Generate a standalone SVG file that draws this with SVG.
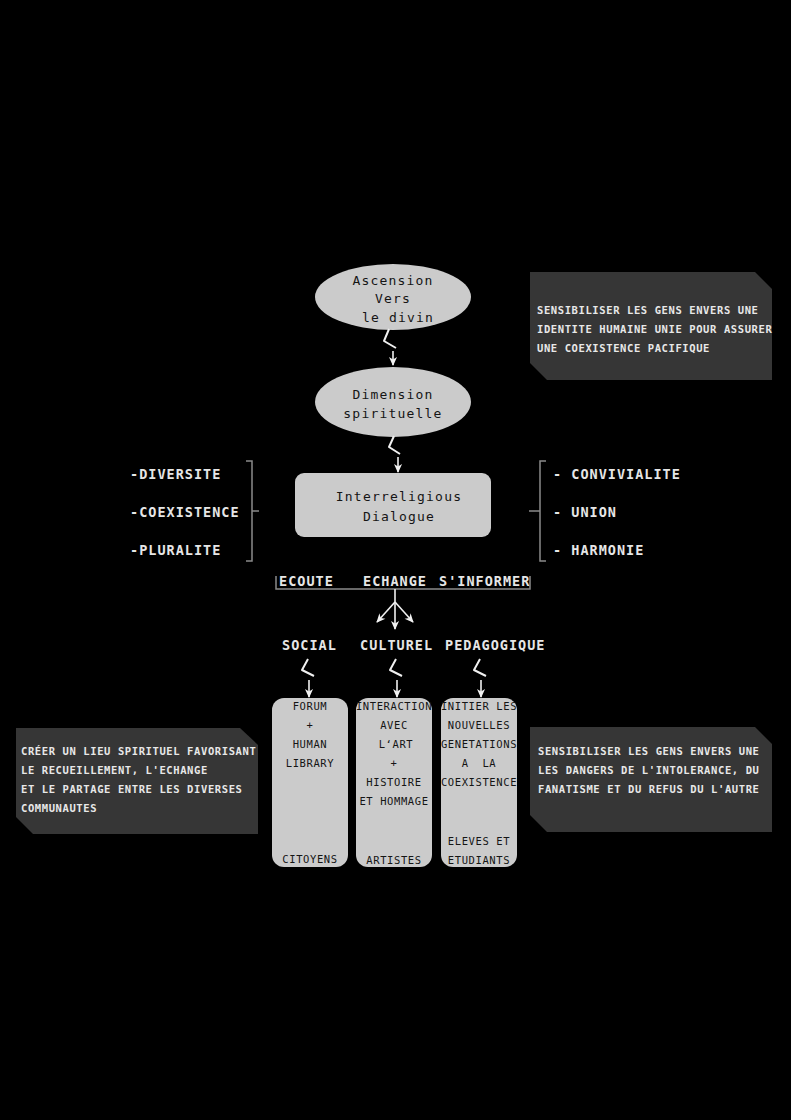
<svg xmlns="http://www.w3.org/2000/svg" width="791" height="1120" viewBox="0 0 791 1120">
<defs>
<marker id="ah" viewBox="0 0 10 10" refX="9" refY="5" markerWidth="11" markerHeight="9" orient="auto" markerUnits="userSpaceOnUse">
<path d="M0,0.5 L10,5 L0,9.5 L3,5 Z" fill="#f2f2f2"/>
</marker>
<style>
.bg{fill:#000}
.lt{fill:#cbcbcb}
.dk{fill:#363636}
.t1{font-family:"DejaVu Sans Mono","Liberation Mono",monospace;font-size:13px;letter-spacing:1.2px;fill:#151515;text-anchor:middle}
.t2{font-family:"DejaVu Sans Mono","Liberation Mono",monospace;font-size:13.5px;font-weight:bold;letter-spacing:1px;fill:#e6e6e6}
.t3{font-family:"DejaVu Sans Mono","Liberation Mono",monospace;font-size:10.5px;font-weight:bold;letter-spacing:0.6px;fill:#e8e8e8}
.t4{font-family:"DejaVu Sans Mono","Liberation Mono",monospace;font-size:10.5px;letter-spacing:0.6px;fill:#151515;text-anchor:middle}
.sq{fill:none;stroke:#f0f0f0;stroke-width:2;stroke-linejoin:round}
.ar{fill:none;stroke:#f0f0f0;stroke-width:1.6}
.br{fill:none;stroke:#8a8a8a;stroke-width:1.5}
</style>
</defs>
<rect class="bg" x="0" y="0" width="791" height="1120"/>

<g id="n-ascension">
<ellipse class="lt" cx="393" cy="297" rx="78" ry="33"/>
<text class="t1" x="393" y="285">Ascension</text>
<text class="t1" x="393" y="303">Vers</text>
<text class="t1" x="398" y="322">le divin</text>
</g>

<g id="n-dimension">
<ellipse class="lt" cx="393" cy="402" rx="78" ry="35"/>
<text class="t1" x="393" y="399">Dimension</text>
<text class="t1" x="393" y="418">spirituelle</text>
</g>

<g id="n-dialogue">
<rect class="lt" x="295" y="473" width="196" height="64" rx="9"/>
<text class="t1" x="399" y="501">Interreligious</text>
<text class="t1" x="399" y="521">Dialogue</text>
</g>

<g id="n-note-top">
<polygon class="dk" points="530,272 755,272 772,289 772,380 547,380 530,363"/>
<text class="t3" x="537" y="314">SENSIBILISER LES GENS ENVERS UNE</text>
<text class="t3" x="537" y="333">IDENTITE HUMAINE UNIE POUR ASSURER</text>
<text class="t3" x="537" y="352">UNE COEXISTENCE PACIFIQUE</text>
</g>

<g id="n-list-left">
<text class="t2" x="130" y="479">-DIVERSITE</text>
<text class="t2" x="130" y="517">-COEXISTENCE</text>
<text class="t2" x="130" y="555">-PLURALITE</text>
</g>

<g id="n-list-right">
<text class="t2" x="553" y="479">- CONVIVIALITE</text>
<text class="t2" x="553" y="517">- UNION</text>
<text class="t2" x="553" y="555">- HARMONIE</text>
</g>

<g id="n-modes">
<text class="t2" x="279" y="586">ECOUTE</text>
<text class="t2" x="363" y="586">ECHANGE</text>
<text class="t2" x="439" y="586">S'INFORMER</text>
</g>

<g id="n-social"><text class="t2" x="282" y="650">SOCIAL</text></g>
<g id="n-culturel"><text class="t2" x="360" y="650">CULTUREL</text></g>
<g id="n-pedagogique"><text class="t2" x="445" y="650">PEDAGOGIQUE</text></g>

<g id="n-box-social">
<rect class="lt" x="272" y="698" width="76" height="169" rx="12"/>
<text class="t4" x="310" y="710">FORUM</text>
<text class="t4" x="310" y="729">+</text>
<text class="t4" x="310" y="748">HUMAN</text>
<text class="t4" x="310" y="767">LIBRARY</text>
<text class="t4" x="310" y="863">CITOYENS</text>
</g>

<g id="n-box-culturel">
<rect class="lt" x="356" y="698" width="76" height="169" rx="12"/>
<text class="t4" x="394" y="710">INTERACTION</text>
<text class="t4" x="394" y="729">AVEC</text>
<text class="t4" x="396" y="748">L‘ART</text>
<text class="t4" x="394" y="767">+</text>
<text class="t4" x="394" y="786">HISTOIRE</text>
<text class="t4" x="394" y="805">ET HOMMAGE</text>
<text class="t4" x="394" y="864">ARTISTES</text>
</g>

<g id="n-box-pedagogique">
<rect class="lt" x="441" y="698" width="76" height="169" rx="12"/>
<text class="t4" x="479" y="710">INITIER LES</text>
<text class="t4" x="479" y="729">NOUVELLES</text>
<text class="t4" x="479" y="748">GENETATIONS</text>
<text class="t4" x="479" y="767" xml:space="preserve">A  LA</text>
<text class="t4" x="479" y="786">COEXISTENCE</text>
<text class="t4" x="479" y="845">ELEVES ET</text>
<text class="t4" x="479" y="864">ETUDIANTS</text>
</g>

<g id="n-note-left">
<polygon class="dk" points="16,728 240,728 258,745 258,834 33,834 16,817"/>
<text class="t3" x="21" y="755">CRÉER UN LIEU SPIRITUEL FAVORISANT</text>
<text class="t3" x="21" y="774">LE RECUEILLEMENT, L'ECHANGE</text>
<text class="t3" x="21" y="793">ET LE PARTAGE ENTRE LES DIVERSES</text>
<text class="t3" x="21" y="812">COMMUNAUTES</text>
</g>

<g id="n-note-right">
<polygon class="dk" points="530,727 755,727 772,744 772,832 547,832 530,815"/>
<text class="t3" x="538" y="755">SENSIBILISER LES GENS ENVERS UNE</text>
<text class="t3" x="538" y="774">LES DANGERS DE L'INTOLERANCE, DU</text>
<text class="t3" x="538" y="793">FANATISME ET DU REFUS DU L'AUTRE</text>
</g>

<g id="connectors">
<polyline class="sq" points="389,329 384,341 396,348"/>
<line class="ar" x1="393" y1="351" x2="393" y2="365" marker-end="url(#ah)"/>
<polyline class="sq" points="394,436 389,447 400,454"/>
<line class="ar" x1="398" y1="457" x2="398" y2="472" marker-end="url(#ah)"/>

<polyline class="br" points="246,461 252,461 252,561 246,561"/>
<line class="br" x1="252" y1="511" x2="259" y2="511"/>
<polyline class="br" points="546,461 540,461 540,561 546,561"/>
<line class="br" x1="540" y1="511" x2="529" y2="511"/>

<polyline class="br" points="276,576 276,589 530,589 530,576"/>
<line class="ar" x1="395" y1="589" x2="395" y2="602"/>
<line class="ar" x1="395" y1="602" x2="377" y2="622" marker-end="url(#ah)"/>
<line class="ar" x1="395" y1="602" x2="395" y2="629" marker-end="url(#ah)"/>
<line class="ar" x1="395" y1="602" x2="413" y2="622" marker-end="url(#ah)"/>

<polyline class="sq" points="308,659 302,670 314,676"/>
<line class="ar" x1="309" y1="680" x2="309" y2="697" marker-end="url(#ah)"/>
<polyline class="sq" points="396,659 390,670 402,676"/>
<line class="ar" x1="397" y1="680" x2="397" y2="697" marker-end="url(#ah)"/>
<polyline class="sq" points="480,659 474,670 486,676"/>
<line class="ar" x1="481" y1="680" x2="481" y2="697" marker-end="url(#ah)"/>
</g>
</svg>
